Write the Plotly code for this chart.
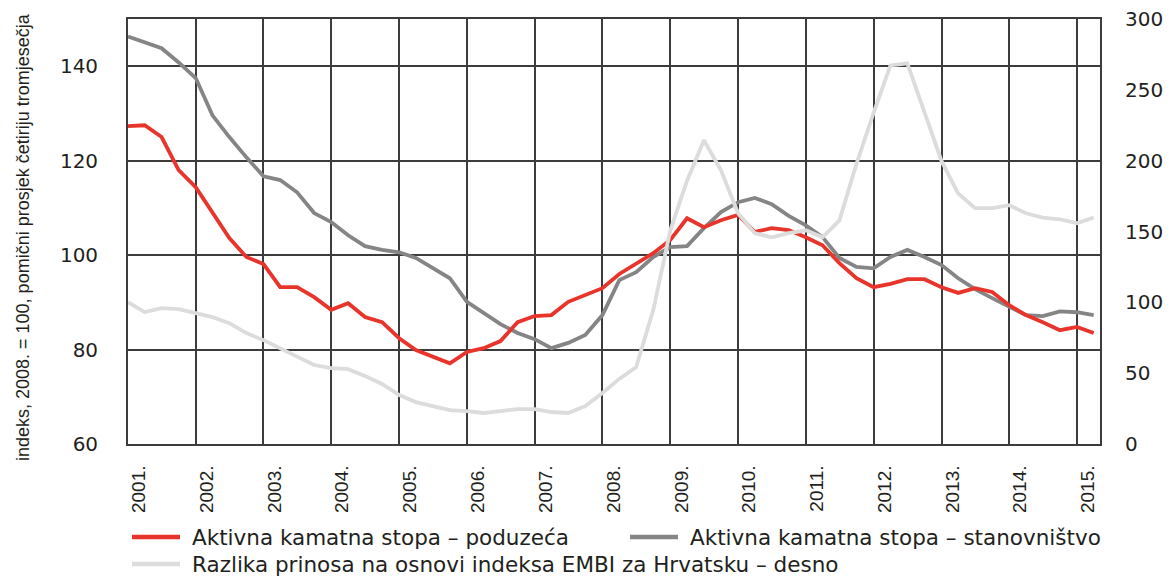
import pandas as pd
import plotly.graph_objects as go

# Quarterly observations, 2001 Q1 - 2015 Q2
dates = pd.date_range("2001-01-01", periods=58, freq="QS")

poduzeca = [127.3, 127.5, 125.0, 118.0, 114.4, 108.9, 103.6, 99.6, 98.1, 93.2,
            93.2, 91.1, 88.4, 89.8, 86.9, 85.8, 82.4, 79.9, 78.4, 77.1,
            79.5, 80.3, 81.8, 85.8, 87.1, 87.3, 90.1, 91.5, 93.0, 96.0,
            98.3, 100.4, 103.2, 107.8, 105.9, 107.4, 108.5, 104.9, 105.7, 105.3,
            103.8, 102.1, 98.3, 95.1, 93.2, 93.9, 94.9, 94.9, 93.2, 92.0,
            93.0, 92.2, 89.4, 87.3, 85.8, 84.1, 84.8, 83.5]

stanovnistvo = [146.3, 145.1, 143.8, 140.8, 137.5, 129.6, 125.0, 120.7, 116.7, 115.9,
                113.3, 108.9, 107.0, 104.2, 101.9, 101.1, 100.6, 99.4, 97.2, 95.1,
                90.1, 87.7, 85.4, 83.5, 82.2, 80.3, 81.4, 83.1, 87.3, 94.7,
                96.4, 99.6, 101.7, 101.9, 105.7, 109.1, 111.2, 112.1, 110.8, 108.3,
                106.3, 103.8, 99.4, 97.5, 97.2, 99.6, 101.1, 99.6, 97.9, 95.1,
                92.8, 90.9, 89.0, 87.3, 87.1, 88.1, 87.9, 87.3]

embi = [100.2, 93.2, 96.0, 95.3, 92.5, 89.6, 85.4, 78.4, 73.4, 67.8,
        61.4, 55.8, 53.6, 52.9, 48.0, 42.4, 34.6, 29.6, 26.8, 24.0,
        23.3, 21.9, 23.3, 24.7, 24.7, 22.6, 21.9, 26.8, 36.0, 46.0,
        54.4, 94.6, 151.0, 186.0, 214.6, 193.4, 163.0, 149.0, 146.0, 149.0,
        151.0, 146.0, 158.0, 198.0, 234.0, 267.5, 269.0, 234.0, 200.0, 177.0,
        166.6, 166.6, 168.7, 163.0, 160.0, 158.8, 156.0, 160.0]

years = list(range(2001, 2016))
year_labels = [f"{y}." for y in years]
right_ticks = [0, 50, 100, 150, 200, 250, 300]
left_ticks = [60, 80, 100, 120, 140]

names = ["Aktivna kamatna stopa – poduzeća",
         "Aktivna kamatna stopa – stanovništvo",
         "Razlika prinosa na osnovi indeksa EMBI za Hrvatsku – desno"]
y_title = "indeks, 2008. = 100, pomični prosjek četiriju tromjesečja"

RED = "#e8342b"
DARK = "#858585"
LIGHT = "#dcdcdc"
TXT = "#231f20"
GRID = "#3c3c3c"
ARIAL = "Liberation Sans, Arial, sans-serif"
WIDE = "DejaVu Sans, Verdana, sans-serif"

# the page body has an 8 px margin, so the figure is drawn 8 px smaller
OFF = 8
FIG_W, FIG_H = 1175 - OFF, 577 - OFF
# plot-area geometry in reference pixels (used for legend / title placement)
L, R, T, B = 128, 1100, 19, 444
W, H = R - L, B - T


def px(xp):
    return (xp - L) / W


def py(yp):
    return (B - yp) / H


fig = go.Figure()
fig.add_trace(go.Scatter(x=dates, y=embi, name=names[2], yaxis="y2",
                         mode="lines", line=dict(color=LIGHT, width=3.8)))
fig.add_trace(go.Scatter(x=dates, y=stanovnistvo, name=names[1],
                         mode="lines", line=dict(color=DARK, width=3.8)))
fig.add_trace(go.Scatter(x=dates, y=poduzeca, name=names[0],
                         mode="lines", line=dict(color=RED, width=3.8)))

# custom legend (long line samples as in the original)
legend_items = [
    (names[0], RED, 132, 537),
    (names[1], DARK, 630, 537),
    (names[2], LIGHT, 132, 564),
]
shapes = []
annotations = []
for text, color, x0, yrow in legend_items:
    shapes.append(dict(type="line", xref="paper", yref="paper",
                       x0=px(x0), x1=px(x0 + 48), y0=py(yrow), y1=py(yrow),
                       line=dict(color=color, width=4.5)))
    annotations.append(dict(text=text, xref="paper", yref="paper",
                            x=px(x0 + 59), y=py(yrow), xanchor="left",
                            yanchor="middle", showarrow=False, borderpad=0,
                            font=dict(family=WIDE, size=21.5, color=TXT)))

annotations.append(dict(text=y_title, xref="paper", yref="paper",
                        x=px(23), y=py(237), xanchor="center", yanchor="middle",
                        textangle=-90, showarrow=False,
                        font=dict(family=ARIAL, size=18, color=TXT)))

fig.update_layout(
    width=FIG_W, height=FIG_H,
    margin=dict(l=L - OFF, r=FIG_W - (R - OFF), t=T - OFF, b=FIG_H - (B - OFF)),
    plot_bgcolor="white", paper_bgcolor="white",
    showlegend=False,
    font=dict(family=ARIAL, color=TXT),
    shapes=shapes,
    annotations=annotations,
    xaxis=dict(
        type="date",
        range=["2001-01-01", "2015-05-05"],
        tickmode="array",
        tickvals=[f"{y}-01-01" for y in years],
        ticktext=year_labels,
        tickangle=-90,
        tickfont=dict(family=ARIAL, size=19, color=TXT),
        ticklabelstandoff=12, ticklabelshift=11,
        showgrid=True, gridcolor=GRID, gridwidth=1.6,
        showline=True, linecolor=GRID, linewidth=1.8, mirror=True,
        ticks="", zeroline=False, automargin=False,
    ),
    yaxis=dict(
        range=[60, 150],
        tickmode="array", tickvals=left_ticks,
        tickfont=dict(family=WIDE, size=20, color=TXT),
        ticklabelstandoff=24,
        showgrid=True, gridcolor=GRID, gridwidth=1.6,
        showline=True, linecolor=GRID, linewidth=1.8, mirror=True,
        ticks="", zeroline=False, automargin=False,
    ),
    yaxis2=dict(
        range=[0, 300.3],
        tickmode="array", tickvals=right_ticks,
        ticktext=[str(v) for v in right_ticks],
        tickfont=dict(family=WIDE, size=20, color=TXT),
        ticklabelstandoff=24, ticklabeloverflow="allow",
        overlaying="y", side="right",
        showgrid=False, zeroline=False, ticks="", automargin=False,
    ),
)

fig.write_html("out.html")
